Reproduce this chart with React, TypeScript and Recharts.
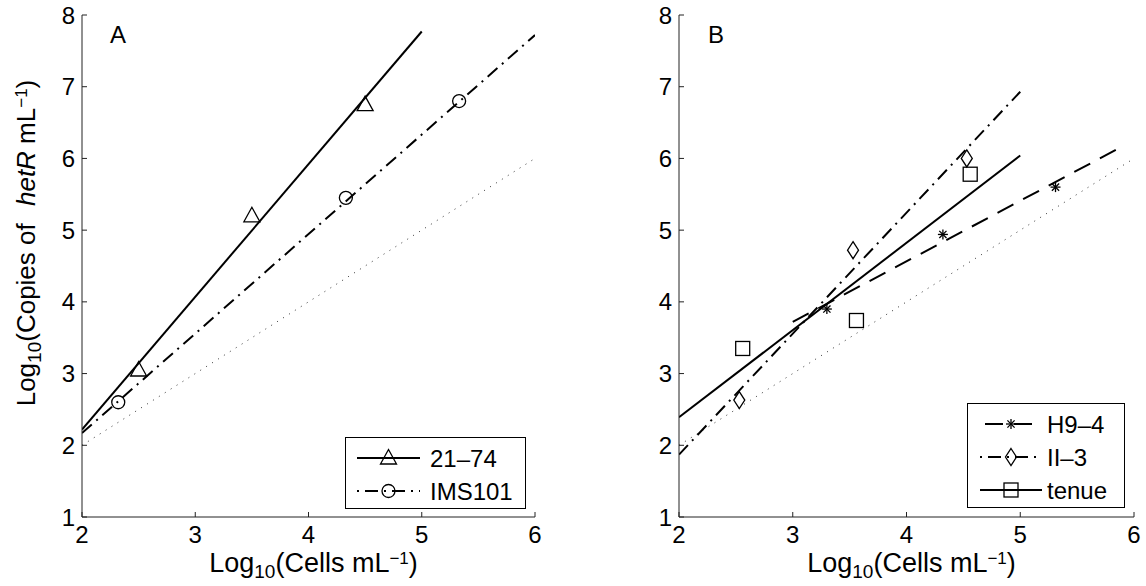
import React from 'react';
import { ComposedChart, Line, Scatter, XAxis, YAxis, Legend } from 'recharts';

const FONT = '"Liberation Sans", Arial, Helvetica, sans-serif';
const INK = '#000';

const xTicks = [2, 3, 4, 5, 6];
const yTicks = [1, 2, 3, 4, 5, 6, 7, 8];

// dotted 1:1 line, both panels
const refX = [2, 6];
const refY = [2, 6];

// panel A
const s2174X = [2.5, 3.5, 4.5];
const s2174Y = [3.05, 5.2, 6.75];
const s2174FitX = [2, 5];
const s2174FitY = [2.22, 7.77];

const imsX = [2.32, 4.33, 5.33];
const imsY = [2.6, 5.45, 6.8];
const imsFitX = [2, 6];
const imsFitY = [2.17, 7.72];

// panel B
const h94X = [3.3, 4.32, 5.31];
const h94Y = [3.9, 4.94, 5.6];
const h94FitX = [3.0, 5.9];
const h94FitY = [3.72, 6.17];

const ii3X = [2.53, 3.53, 4.53];
const ii3Y = [2.63, 4.72, 6.0];
const ii3FitX = [2, 5];
const ii3FitY = [1.87, 6.93];

const tenueX = [2.56, 3.56, 4.56];
const tenueY = [3.35, 3.74, 5.78];
const tenueFitX = [2, 5];
const tenueFitY = [2.39, 6.04];

const zip = (xs: number[], ys: number[]) => xs.map((x, i) => ({ x, y: ys[i] }));

const DASH = '18 11';
const DASHDOT = '13 6 2 6';

// markers
const MW = 1.3;
const triangle = ({ cx, cy }: any) => (
  <path d={`M${cx},${cy - 8.5}L${cx + 8},${cy + 6}L${cx - 8},${cy + 6}Z`} fill="none" stroke={INK} strokeWidth={MW} />
);
const circle = ({ cx, cy }: any) => <circle cx={cx} cy={cy} r={6.5} fill="none" stroke={INK} strokeWidth={MW} />;
const square = ({ cx, cy }: any) => <rect x={cx - 7} y={cy - 7} width={14} height={14} fill="none" stroke={INK} strokeWidth={MW} />;
const diamond = ({ cx, cy }: any) => (
  <path d={`M${cx},${cy - 8.5}L${cx + 5.5},${cy}L${cx},${cy + 8.5}L${cx - 5.5},${cy}Z`} fill="none" stroke={INK} strokeWidth={MW} />
);
const star = ({ cx, cy }: any) => (
  <g stroke={INK} strokeWidth={MW}>
    <line x1={cx - 5} y1={cy} x2={cx + 5} y2={cy} />
    <line x1={cx} y1={cy - 5} x2={cx} y2={cy + 5} />
    <line x1={cx - 3.6} y1={cy - 3.6} x2={cx + 3.6} y2={cy + 3.6} />
    <line x1={cx - 3.6} y1={cy + 3.6} x2={cx + 3.6} y2={cy - 3.6} />
  </g>
);

type Series = { name: string; pts: { x: number; y: number }[]; fit: { x: number; y: number }[]; dash?: string; legendOffset?: number; shape: (p: any) => any };

const seriesA: Series[] = [
  { name: '21–74', pts: zip(s2174X, s2174Y), fit: zip(s2174FitX, s2174FitY), shape: triangle },
  { name: 'IMS101', pts: zip(imsX, imsY), fit: zip(imsFitX, imsFitY), dash: DASHDOT, legendOffset: 19, shape: circle },
];
const seriesB: Series[] = [
  { name: 'H9–4', pts: zip(h94X, h94Y), fit: zip(h94FitX, h94FitY), dash: DASH, legendOffset: 24, shape: star },
  { name: 'II–3', pts: zip(ii3X, ii3Y), fit: zip(ii3FitX, ii3FitY), dash: DASHDOT, legendOffset: 19, shape: diamond },
  { name: 'tenue', pts: zip(tenueX, tenueY), fit: zip(tenueFitX, tenueFitY), shape: square },
];

const XTitle = ({ viewBox }: any) => {
  const vb = viewBox || { x: 0, y: 0, width: 0, height: 0 };
  return (
    <text x={vb.x + vb.width / 2 + 5} y={vb.y + 55} textAnchor="middle" fontSize={27} fontFamily={FONT} fill={INK}>
      <tspan>Log</tspan>
      <tspan fontSize={19} dy={6}>10</tspan>
      <tspan dy={-6}>(Cells mL</tspan>
      <tspan fontSize={17} dy={-8}>−1</tspan>
      <tspan dy={8}>)</tspan>
    </text>
  );
};

const YTitle = ({ viewBox }: any) => {
  const vb = viewBox || { x: 0, y: 0, width: 0, height: 0 };
  const cy = vb.y + vb.height / 2 - 23;
  return (
    <text transform={`translate(${vb.x + 13},${cy}) rotate(-90)`} textAnchor="middle" fontSize={26} fontFamily={FONT} fill={INK}>
      <tspan>Log</tspan>
      <tspan fontSize={19} dy={6}>10</tspan>
      <tspan dy={-6}>(Copies of </tspan>
      <tspan dx={10} fontStyle="italic">hetR</tspan>
      <tspan> mL</tspan>
      <tspan fontSize={17} dy={-8}>−1</tspan>
      <tspan dy={8}>)</tspan>
    </text>
  );
};

const LegendBox = ({ series, width, height, rows, x1, x2, tx }: any) => (
  <svg width={width} height={height} style={{ display: 'block' }}>
    <rect x={0.5} y={0.5} width={width - 1} height={height - 1} fill="#fff" stroke={INK} strokeWidth={1} />
    {series.map((s: Series, i: number) => (
      <g key={s.name}>
        <line x1={x1} y1={rows[i]} x2={x2} y2={rows[i]} stroke={INK} strokeWidth={2} strokeDasharray={s.dash} strokeDashoffset={s.legendOffset || 0} />
        {s.shape({ cx: (x1 + x2) / 2, cy: rows[i] })}
        <text x={tx} y={rows[i]} dy="0.36em" fontSize={24} fontFamily={FONT} fill={INK}>{s.name}</text>
      </g>
    ))}
  </svg>
);

const Panel = ({ series, margin, yTitle, letter, legend }: any) => {
  const ref = zip(refX, refY);
  return (
    <div style={{ position: 'relative', width: 573, height: 586 }}>
      <ComposedChart width={573} height={586} margin={margin}>
        <XAxis
          type="number"
          dataKey="x"
          domain={[2, 6]}
          ticks={xTicks}
          allowDataOverflow
          height={50}
          tickSize={-5}
          tickMargin={14}
          axisLine={{ stroke: '#222' }}
          tickLine={{ stroke: '#222' }}
          tick={{ fill: INK, fontSize: 24, fontFamily: FONT }}
          label={<XTitle />}
        />
        <YAxis
          type="number"
          dataKey="y"
          domain={[1, 8]}
          ticks={yTicks}
          allowDataOverflow
          width={60}
          tickSize={-5}
          tickMargin={12}
          axisLine={{ stroke: '#222' }}
          tickLine={{ stroke: '#222' }}
          tick={{ fill: INK, fontSize: 24, fontFamily: FONT }}
          label={yTitle ? <YTitle /> : undefined}
        />
        <Line data={ref} dataKey="y" type="linear" stroke="#333" strokeWidth={1} strokeDasharray="1 6" dot={false} activeDot={false} isAnimationActive={false} />
        {series.map((s: Series) => (
          <Line key={`fit-${s.name}`} data={s.fit} dataKey="y" type="linear" stroke={INK} strokeWidth={2} strokeDasharray={s.dash} dot={false} activeDot={false} isAnimationActive={false} />
        ))}
        {series.map((s: Series) => (
          <Scatter key={`pts-${s.name}`} data={s.pts} dataKey="y" shape={s.shape} isAnimationActive={false} />
        ))}
        <Legend
          layout="horizontal"
          verticalAlign="middle"
          align="center"
          wrapperStyle={{ position: 'absolute', left: legend.left, top: legend.top, right: 'auto', bottom: 'auto', width: legend.width, height: legend.height }}
          content={() => <LegendBox series={series} {...legend} />}
        />
      </ComposedChart>
      <div style={{ position: 'absolute', left: letter.left, top: 23, fontFamily: FONT, fontSize: 24, lineHeight: '24px', color: INK }}>
        {letter.text}
      </div>
    </div>
  );
};

export default function App() {
  return (
    <div style={{ position: 'absolute', left: 0, top: 0, width: 1146, height: 586, background: '#fff', display: 'flex' }}>
      <Panel
        series={seriesA}
        margin={{ top: 15, right: 38, bottom: 19, left: 22 }}
        yTitle
        letter={{ text: 'A', left: 110 }}
        legend={{ left: 345, top: 437, width: 181, height: 72, rows: [21, 54], x1: 12, x2: 75, tx: 85 }}
      />
      <Panel
        series={seriesB}
        margin={{ top: 15, right: 12, bottom: 19, left: 46 }}
        letter={{ text: 'B', left: 135 }}
        legend={{ left: 394, top: 403, width: 158, height: 105, rows: [21, 54, 87], x1: 13, x2: 75, tx: 80 }}
      />
    </div>
  );
}
